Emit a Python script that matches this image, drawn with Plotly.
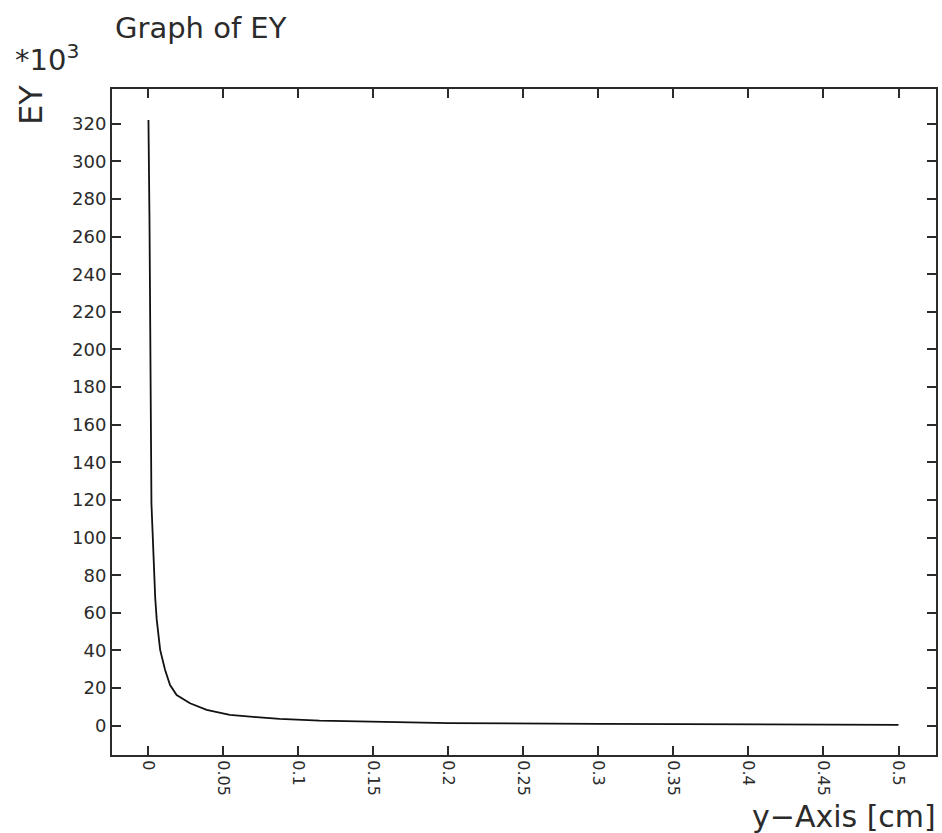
import plotly.graph_objects as go

# Position along the y-axis [cm] and the field component EY [x10^3]
y_cm = [0.0, 0.0007, 0.002, 0.0035, 0.0045, 0.0055, 0.0078, 0.0111,
        0.0144, 0.0188, 0.0277, 0.0388, 0.0542, 0.0719, 0.0874, 0.114,
        0.15, 0.2, 0.3, 0.366, 0.5]
ey_k = [322.0, 268.0, 118.0, 87.0, 68.0, 56.5, 40.3, 29.6,
        21.6, 16.3, 11.9, 8.4, 5.7, 4.5, 3.6, 2.7,
        2.0, 1.4, 1.0, 0.7, 0.4]

x_ticks = [0, 0.05, 0.1, 0.15, 0.2, 0.25, 0.3, 0.35, 0.4, 0.45, 0.5]
x_tick_text = ["0", "0.05", "0.1", "0.15", "0.2", "0.25", "0.3", "0.35", "0.4", "0.45", "0.5"]
y_ticks = list(range(0, 321, 20))

FONT = "DejaVu Sans"
INK = "#2b2b2b"

fig = go.Figure()
fig.add_trace(go.Scatter(
    x=y_cm, y=ey_k, mode="lines",
    line=dict(color="#111111", width=1.8),
    showlegend=False, hoverinfo="skip",
))

axis_common = dict(
    showgrid=False, zeroline=False,
    showline=True, linecolor=INK, linewidth=2, mirror="ticks",
    ticks="inside", ticklen=9, tickwidth=1.6, tickcolor=INK,
)

fig.update_xaxes(
    range=[-0.0243, 0.525],
    tickvals=x_ticks, ticktext=x_tick_text, tickangle=90,
    tickfont=dict(family=FONT, size=16, color=INK),
    **axis_common,
)
fig.update_yaxes(
    range=[-15.6, 338.5],
    tickvals=y_ticks,
    tickfont=dict(family=FONT, size=18, color=INK),
    **axis_common,
)

fig.update_layout(
    width=942, height=833,
    margin=dict(l=112, r=4, t=89, b=78),
    paper_bgcolor="white", plot_bgcolor="white",
    font=dict(family=FONT, color=INK),
    annotations=[
        dict(text="Graph of EY", xref="paper", yref="paper", x=0, y=1,
             xanchor="left", yanchor="bottom", xshift=1, yshift=42,
             showarrow=False, font=dict(size=29, color=INK)),
        dict(text="*10<sup>3</sup>", xref="paper", yref="paper", x=0, y=1,
             xanchor="left", yanchor="bottom", xshift=-99, yshift=10,
             showarrow=False, font=dict(size=29, color=INK)),
        dict(text="EY", xref="paper", yref="paper", x=0, y=1,
             xanchor="center", yanchor="middle", xshift=-81, yshift=-16,
             textangle=-90, showarrow=False, font=dict(size=32, color=INK)),
        dict(text="y\u2212Axis [cm]", xref="paper", yref="paper", x=1, y=0,
             xanchor="right", yanchor="top", xshift=2, yshift=-42,
             showarrow=False, font=dict(size=30, color=INK)),
    ],
)

fig.write_html("out.html")
